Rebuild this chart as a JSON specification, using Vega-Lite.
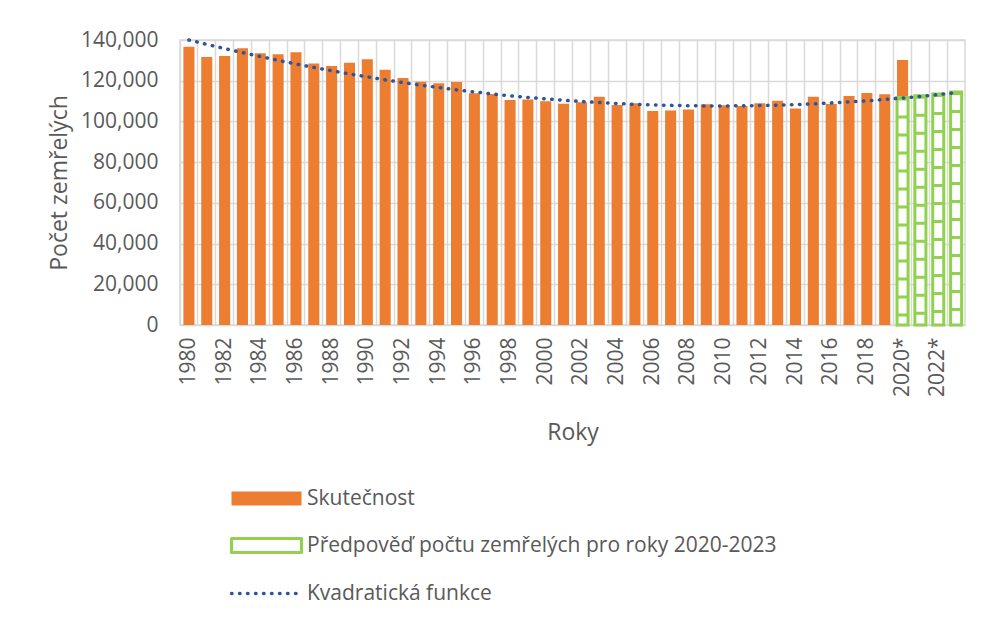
{
  "$schema": "https://vega.github.io/schema/vega-lite/v6.json",
  "width": 785,
  "height": 285,
  "autosize": {"type": "none"},
  "padding": {"left": 180, "top": 40, "right": 17, "bottom": 298},
  "background": "white",
  "config": {
    "view": {"stroke": "#d9d9d9", "strokeWidth": 1.5},
    "font": "Open Sans",
    "axis": {"labelColor": "#595959", "titleColor": "#595959", "labelFont": "Open Sans", "titleFont": "Open Sans", "titleFontWeight": "normal", "gridColor": "#d9d9d9", "gridWidth": 1.5},
    "legend": {"labelColor": "#595959", "labelFont": "Open Sans"}
  },
  "data": {
    "values": [
      {"year": "1980", "actual": 136700, "trend": 140000},
      {"year": "1981", "actual": 131600, "trend": 137850},
      {"year": "1982", "actual": 132100, "trend": 135800},
      {"year": "1983", "actual": 135900, "trend": 133800},
      {"year": "1984", "actual": 133500, "trend": 131900},
      {"year": "1985", "actual": 133000, "trend": 130000},
      {"year": "1986", "actual": 134000, "trend": 128200},
      {"year": "1987", "actual": 128500, "trend": 126500},
      {"year": "1988", "actual": 127200, "trend": 124900},
      {"year": "1989", "actual": 128800, "trend": 123300},
      {"year": "1990", "actual": 130500, "trend": 121900},
      {"year": "1991", "actual": 125400, "trend": 120400},
      {"year": "1992", "actual": 121300, "trend": 119100},
      {"year": "1993", "actual": 119500, "trend": 117800},
      {"year": "1994", "actual": 118700, "trend": 116700},
      {"year": "1995", "actual": 119400, "trend": 115500},
      {"year": "1996", "actual": 113800, "trend": 114500},
      {"year": "1997", "actual": 113500, "trend": 113500},
      {"year": "1998", "actual": 110500, "trend": 112600},
      {"year": "1999", "actual": 110800, "trend": 111800},
      {"year": "2000", "actual": 109900, "trend": 111100},
      {"year": "2001", "actual": 108700, "trend": 110400},
      {"year": "2002", "actual": 109400, "trend": 109800},
      {"year": "2003", "actual": 112100, "trend": 109300},
      {"year": "2004", "actual": 108100, "trend": 108800},
      {"year": "2005", "actual": 108900, "trend": 108400},
      {"year": "2006", "actual": 105100, "trend": 108100},
      {"year": "2007", "actual": 105400, "trend": 107900},
      {"year": "2008", "actual": 105900, "trend": 107700},
      {"year": "2009", "actual": 108400, "trend": 107600},
      {"year": "2010", "actual": 107900, "trend": 107600},
      {"year": "2011", "actual": 107600, "trend": 107700},
      {"year": "2012", "actual": 108900, "trend": 107800},
      {"year": "2013", "actual": 110200, "trend": 108000},
      {"year": "2014", "actual": 106400, "trend": 108300},
      {"year": "2015", "actual": 112100, "trend": 108600},
      {"year": "2016", "actual": 108600, "trend": 109100},
      {"year": "2017", "actual": 112500, "trend": 109600},
      {"year": "2018", "actual": 114000, "trend": 110100},
      {"year": "2019", "actual": 113300, "trend": 110800},
      {"year": "2020*", "actual": 130200, "forecast": 111800, "trend": 111500},
      {"year": "2021*", "actual": null, "forecast": 112600, "trend": 112300},
      {"year": "2022*", "actual": null, "forecast": 113500, "trend": 113200},
      {"year": "2023*", "actual": null, "forecast": 114500, "trend": 114100}
    ]
  },
  "encoding": {
    "x": {
      "field": "year",
      "type": "ordinal",
      "sort": null,
      "scale": {"paddingInner": 0, "paddingOuter": 0},
      "axis": {
        "title": "Roky",
        "titleFontSize": 23,
        "titlePadding": 25,
        "labelAngle": -90,
        "labelFontSize": 21,
        "labelPadding": 12,
        "labelExpr": "parseInt(datum.value) % 2 == 0 ? datum.value : ''",
        "labelOverlap": false,
        "bandPosition": 0,
        "grid": true,
        "ticks": false,
        "domain": false
      }
    }
  },
  "layer": [
    {
      "mark": {"type": "bar", "width": {"band": 0.62}},
      "encoding": {
        "y": {
          "field": "actual",
          "type": "quantitative",
          "scale": {"domain": [0, 140000], "nice": false},
          "axis": {
            "title": "Počet zemřelých",
            "titleFontSize": 23,
            "titlePadding": 9,
            "labelFontSize": 21,
            "labelPadding": 22,
            "values": [0, 20000, 40000, 60000, 80000, 100000, 120000, 140000],
            "format": ",d",
            "grid": true,
            "ticks": false,
            "domain": false
          }
        },
        "color": {
          "datum": "Skutečnost",
          "type": "nominal",
          "scale": {
            "domain": ["Skutečnost", "Předpověď počtu zemřelých pro roky 2020-2023", "Kvadratická funkce"],
            "range": ["#ED7D31", "#92D050", "#2F5597"]
          },
          "legend": {
            "title": null,
            "orient": "none",
            "legendX": 55,
            "legendY": 448,
            "direction": "vertical",
            "labelFontSize": 21,
            "labelLimit": 0,
            "symbolSize": 784,
            "labelOffset": 51,
            "rowPadding": 23,
            "encode": {
              "symbols": {
                "update": {
                  "shape": {"signal": "datum.value === 'Kvadratická funkce' ? 'M-1,0H4' : 'M-1,-0.5H4V0.5H-1Z'"},
                  "fillOpacity": {"signal": "datum.value === 'Skutečnost' ? 1 : 0"},
                  "stroke": {"signal": "datum.value === 'Skutečnost' ? '#ED7D31' : (datum.value === 'Kvadratická funkce' ? '#2F5597' : '#92D050')"},
                  "strokeWidth": {"signal": "datum.value === 'Skutečnost' ? 0 : (datum.value === 'Kvadratická funkce' ? 3.5 : 3)"},
                  "strokeDash": {"signal": "datum.value === 'Kvadratická funkce' ? [0.5, 7.5] : [1, 0]"},
                  "strokeCap": {"value": "round"},
                  "size": {"value": 784},
                  "opacity": {"value": 1}
                }
              }
            }
          }
        }
      }
    },
    {
      "mark": {"type": "bar", "width": {"band": 0.62}, "fill": "white", "stroke": "#92D050", "strokeWidth": 3},
      "encoding": {
        "y": {"field": "forecast", "type": "quantitative"}
      }
    },
    {
      "mark": {"type": "rule", "stroke": "#92D050", "strokeWidth": 9, "strokeDash": [3, 15]},
      "encoding": {
        "y": {"field": "forecast", "type": "quantitative"},
        "y2": {"datum": 0}
      }
    },
    {
      "mark": {"type": "line", "strokeWidth": 3.5, "strokeDash": [0.5, 7.5], "strokeCap": "round"},
      "encoding": {
        "y": {"field": "trend", "type": "quantitative"},
        "color": {"datum": "Kvadratická funkce", "type": "nominal"}
      }
    }
  ]
}
